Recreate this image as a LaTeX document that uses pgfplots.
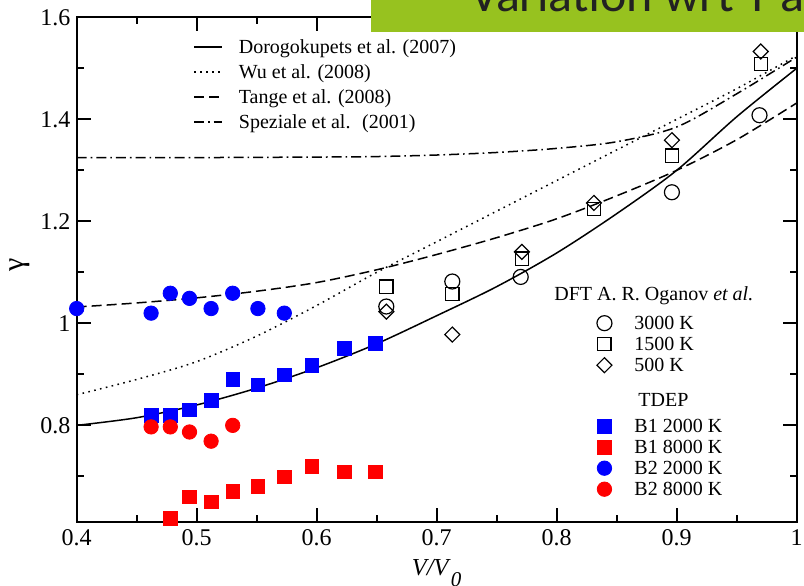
\documentclass[border=0pt]{standalone}
\usepackage{fontspec}
\setmainfont{Liberation Serif}
\newfontfamily\bannerfont{Carlito}
\usepackage{pgfplots}
\pgfplotsset{compat=1.18}
\definecolor{bannergreen}{RGB}{151,194,31}
\definecolor{bannertext}{RGB}{34,34,34}

% common frame for the data axis and the two symbol-legend axes
\pgfplotsset{
  frame/.style={at={(0,0)}, anchor=south west, scale only axis, width=360pt, height=252.5pt},
  symlegend/.style={
    hide axis, xmin=0, xmax=1, ymin=0, ymax=1,
    legend cell align=left,
    legend style={at={#1}, anchor=north west, draw=none, fill=none,
      inner sep=0pt, column sep=11.25pt, row sep=0pt,
      font=\fontsize{10}{12}\selectfont,
      nodes={inner sep=0pt, anchor=base west, text height=7pt, text depth=3.5pt}},
    legend image code/.code={\path[draw=none, fill=none] (0pt,0.5pt) rectangle (7.5pt,3.5pt);
      \draw[overlay,##1] plot coordinates {(3.75pt,3.3pt)};},
  },
}

\begin{document}
\begin{tikzpicture}
% ---------------- main axis: gamma vs V/V0 ----------------
\begin{axis}[
  frame, name=main,
  xmin=0.4, xmax=1, ymin=0.61, ymax=1.6,
  xtick={0.4,0.5,0.6,0.7,0.8,0.9,1},
  xticklabels={0.4,0.5,0.6,0.7,0.8,0.9,1},
  ytick={0.8,1,1.2,1.4,1.6},
  yticklabels={0.8,1,1.2,1.4,1.6},
  minor xtick={0.45,0.55,0.65,0.75,0.85,0.95},
  minor ytick={0.7,0.9,1.1,1.3,1.5},
  tick align=inside,
  major tick length=7pt, minor tick length=3.5pt,
  every tick/.style={black, line width=0.9pt},
  axis line style={line width=1.1pt},
  xticklabel style={font=\fontsize{12}{12}\selectfont, inner sep=0pt, yshift=-3.6pt},
  yticklabel style={font=\fontsize{12}{12}\selectfont, inner sep=0pt, xshift=-3pt},
  xlabel={\textit{V/V}\raisebox{-5.5pt}{\fontsize{10.5}{10.5}\selectfont\textit{0}}},
  xlabel style={at={(axis description cs:0.5,-0.1044)}, anchor=base, font=\fontsize{12.2}{12}\selectfont},
  ylabel={γ},
  ylabel style={at={(axis description cs:-0.0795,0.51)}, anchor=center, font=\fontsize{15}{15}\selectfont},
  legend cell align=left,
  legend style={at={(0.1615,0.9624)}, anchor=north west, draw=none, fill=none,
    inner sep=0pt, column sep=8pt, row sep=0pt,
    font=\fontsize{10}{12}\selectfont,
    nodes={inner sep=0pt, anchor=base west, text height=8.5pt, text depth=4pt}},
  legend image code/.code={\draw[#1] (0pt,3.3pt) -- (14pt,3.3pt);},
]
% Dorogokupets et al. (2007)
\addplot[black, line width=0.75pt, smooth] coordinates {
  (0.40,0.800) (0.45,0.815) (0.50,0.840) (0.55,0.873) (0.60,0.913)
  (0.65,0.960) (0.70,1.015) (0.75,1.072) (0.80,1.138) (0.85,1.215)
  (0.90,1.300) (0.95,1.405) (1.00,1.500)};
\addlegendentry{Dorogokupets et al. (2007)}
% Wu et al. (2008)
\addplot[black, line width=0.75pt, smooth, dash pattern=on 0.8pt off 2.2pt] coordinates {
  (0.40,0.860) (0.45,0.890) (0.50,0.925) (0.55,0.975) (0.60,1.035)
  (0.65,1.100) (0.70,1.160) (0.75,1.220) (0.80,1.280) (0.85,1.340)
  (0.90,1.400) (0.95,1.460) (1.00,1.525)};
\addlegendentry{Wu et al. (2008)}
% Tange et al. (2008)
\addplot[black, line width=0.75pt, smooth, dash pattern=on 5pt off 2.5pt] coordinates {
  (0.40,1.032) (0.45,1.040) (0.50,1.050) (0.55,1.063) (0.60,1.080)
  (0.65,1.105) (0.70,1.135) (0.75,1.168) (0.80,1.205) (0.85,1.250)
  (0.90,1.300) (0.95,1.360) (1.00,1.432)};
\addlegendentry{Tange et al. (2008)}
% Speziale et al. (2001)
\addplot[black, line width=0.75pt, smooth, dash pattern=on 5pt off 2pt on 0.8pt off 2pt] coordinates {
  (0.40,1.325) (0.50,1.325) (0.60,1.326) (0.65,1.327) (0.70,1.330)
  (0.75,1.335) (0.80,1.343) (0.85,1.356) (0.90,1.385) (0.95,1.450)
  (1.00,1.522)};
\addlegendentry{Speziale et al.~ (2001)}

% DFT (Oganov et al.): 3000 K circles, 1500 K squares, 500 K diamonds
\addplot[only marks, mark=o, mark size=3.75pt, mark options={black, line width=0.6pt}] coordinates {
  (0.658,1.033) (0.713,1.082) (0.770,1.091) (0.896,1.257) (0.969,1.408)};
\addplot[only marks, mark=square, mark size=3.3pt, mark options={black, line width=0.6pt}] coordinates {
  (0.658,1.072) (0.713,1.057) (0.771,1.127) (0.831,1.224) (0.896,1.329) (0.970,1.508)};
\addplot[only marks, mark=square, mark size=2.65pt, mark options={black, line width=0.6pt, rotate=45}] coordinates {
  (0.658,1.023) (0.713,0.978) (0.771,1.140) (0.831,1.236) (0.896,1.359) (0.970,1.533)};

% TDEP
\addplot[only marks, mark=square*, mark size=3.4pt, blue] coordinates {
  (0.462,0.820) (0.478,0.820) (0.494,0.830) (0.512,0.849) (0.530,0.890)
  (0.551,0.879) (0.573,0.899) (0.596,0.918) (0.623,0.951) (0.649,0.961)};
\addplot[only marks, mark=square*, mark size=3.4pt, red] coordinates {
  (0.478,0.618) (0.494,0.660) (0.512,0.650) (0.530,0.670) (0.551,0.680)
  (0.573,0.699) (0.596,0.719) (0.623,0.709) (0.649,0.709)};
\addplot[only marks, mark=*, mark size=3.6pt, blue] coordinates {
  (0.400,1.029) (0.462,1.020) (0.478,1.059) (0.494,1.049) (0.512,1.029)
  (0.530,1.059) (0.551,1.029) (0.573,1.020)};
\addplot[only marks, mark=*, mark size=3.6pt, red] coordinates {
  (0.462,0.797) (0.478,0.797) (0.494,0.787) (0.512,0.769) (0.530,0.800)};

% group headings of the symbol legend
\node[anchor=base west, inner sep=0pt, font=\fontsize{10}{12}\selectfont]
  at (axis description cs:0.6629,0.4392) {DFT A. R. Oganov \textit{et al.}};
\node[anchor=base west, inner sep=0pt, font=\fontsize{10}{12}\selectfont]
  at (axis description cs:0.7796,0.2293) {TDEP};
\end{axis}

% ---------------- symbol legend: DFT ----------------
\begin{axis}[frame, symlegend={(0.722,0.4097)}]
\addlegendimage{mark=o, mark size=3.75pt, mark options={black, line width=0.6pt}}
\addlegendentry{3000 K}
\addlegendimage{mark=square, mark size=3.3pt, mark options={black, line width=0.6pt}}
\addlegendentry{1500 K}
\addlegendimage{mark=square, mark size=2.65pt, mark options={black, line width=0.6pt, rotate=45}}
\addlegendentry{500 K}
\end{axis}

% ---------------- symbol legend: TDEP ----------------
\begin{axis}[frame, symlegend={(0.722,0.2057)}]
\addlegendimage{mark=square*, mark size=3.4pt, blue}
\addlegendentry{B1 2000 K}
\addlegendimage{mark=square*, mark size=3.4pt, red}
\addlegendentry{B1 8000 K}
\addlegendimage{mark=*, mark size=3.6pt, blue}
\addlegendentry{B2 2000 K}
\addlegendimage{mark=*, mark size=3.6pt, red}
\addlegendentry{B2 8000 K}
\end{axis}

% slide title banner across the top
\fill[bannergreen] ([shift={(147.15pt,-7.2pt)}]main.north west) rectangle ([shift={(30pt,30pt)}]main.north east);
\node[anchor=base west, inner sep=0pt, text=bannertext, font=\bannerfont\fontsize{25}{25}\selectfont]
  at ([shift={(196.65pt,2.8pt)}]main.north west) {Variation wrt T and P};

\pgfresetboundingbox
\path[use as bounding box] ([shift={(-38.35pt,-31.85pt)}]main.south west) rectangle ([shift={(3.65pt,8.65pt)}]main.north east);
\end{tikzpicture}
\end{document}
